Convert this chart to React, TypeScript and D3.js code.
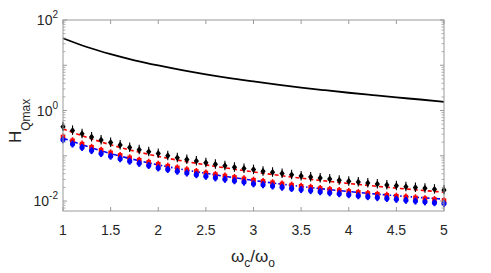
import React from 'react';
import * as d3 from 'd3';

// x values of the sampled points (omega_c / omega_o)
const xPoints = [
  1.0, 1.1, 1.2, 1.3, 1.4, 1.5, 1.6, 1.7, 1.8, 1.9,
  2.0, 2.1, 2.2, 2.3, 2.4, 2.5, 2.6, 2.7, 2.8, 2.9,
  3.0, 3.1, 3.2, 3.3, 3.4, 3.5, 3.6, 3.7, 3.8, 3.9,
  4.0, 4.1, 4.2, 4.3, 4.4, 4.5, 4.6, 4.7, 4.8, 4.9, 5.0,
];

// black diamonds
const blackMarkers = [
  0.440, 0.364, 0.306, 0.260, 0.224, 0.196, 0.172, 0.152, 0.136, 0.122,
  0.112, 0.0998, 0.0909, 0.0832, 0.0764, 0.0700, 0.0651, 0.0604, 0.0561, 0.0523,
  0.0495, 0.0458, 0.0430, 0.0404, 0.0381, 0.0359, 0.0340, 0.0321, 0.0305, 0.0289,
  0.0275, 0.0262, 0.0249, 0.0238, 0.0227, 0.0217, 0.0208, 0.0199, 0.0191, 0.0183, 0.0176,
];

// red squares
const redMarkers = [
  0.260, 0.215, 0.181, 0.154, 0.133, 0.116, 0.102, 0.090, 0.080, 0.072,
  0.065, 0.059, 0.054, 0.049, 0.045, 0.0416, 0.0385, 0.0357, 0.0332, 0.0309,
  0.0289, 0.0271, 0.0254, 0.0239, 0.0225, 0.0212, 0.0201, 0.0190, 0.0180, 0.0171,
  0.0163, 0.0155, 0.0147, 0.0141, 0.0134, 0.0128, 0.0123, 0.0118, 0.0113, 0.0108, 0.0102,
];

// blue circles
const blueMarkers = [
  0.225, 0.182, 0.153, 0.130, 0.112, 0.098, 0.086, 0.076, 0.068, 0.061,
  0.054, 0.050, 0.0455, 0.0416, 0.0382, 0.0352, 0.0325, 0.0302, 0.0281, 0.0262,
  0.0240, 0.0229, 0.0215, 0.0202, 0.0190, 0.0179, 0.0170, 0.0161, 0.0152, 0.0145,
  0.0138, 0.0131, 0.0125, 0.0119, 0.0114, 0.0109, 0.0104, 0.0100, 0.0096, 0.0092, 0.0088,
];

// curves
const lineX = [1, 1.25, 1.5, 1.75, 2, 2.25, 2.5, 2.75, 3, 3.25, 3.5, 3.75, 4, 4.25, 4.5, 4.75, 5];
const blackLine = [39.5, 25.3, 17.6, 12.9, 9.9, 7.8, 6.3, 5.2, 4.4, 3.74, 3.22, 2.81, 2.47, 2.19, 1.95, 1.75, 1.56];

const dashX = [1, 1.5, 2, 2.5, 3, 3.5, 4, 4.5, 5];
const redDashed = [0.39, 0.175, 0.097, 0.063, 0.044, 0.032, 0.0245, 0.0193, 0.0157];
const blueDashDot = [0.245, 0.112, 0.063, 0.041, 0.0285, 0.021, 0.0162, 0.0131, 0.0110];

const xTicks = [1, 1.5, 2, 2.5, 3, 3.5, 4, 4.5, 5];
const yLabelExps = [-2, 0, 2];

const W = 491;
const H = 273;
const left = 63;
const right = 444;
const top = 20;
const bottom = 211;

export default function App() {
  const x = d3.scaleLinear().domain([1, 5]).range([left, right]);
  const y = d3.scaleLog().domain([Math.pow(10, -2.22), 100]).range([bottom, top]);

  const line = (xs: number[], ys: number[]) =>
    d3.line<number>()
      .x((_, i) => x(xs[i]))
      .y((d) => y(d))
      .curve(d3.curveMonotoneX)(ys) || '';

  // log ticks: majors at every decade, minors at 2..9
  const minorTicks: number[] = [];
  for (let e = -3; e <= 1; e++) {
    for (let m = 2; m <= 9; m++) {
      const v = m * Math.pow(10, e);
      if (v >= y.domain()[0] && v <= 100) minorTicks.push(v);
    }
  }
  const majorTicks = [0.01, 0.1, 1, 10, 100];

  const axisColor = '#9a9a9a';
  const textColor = '#262626';
  const font = 'Liberation Sans, Arial, sans-serif';

  const diamond = 'M0,-3.5L2.6,0L0,3.5L-2.6,0Z';

  return (
    <svg width={W} height={H} style={{ position: 'absolute', left: 0, top: 0, background: '#fff' }} fontFamily={font}>
      {/* curves */}
      <path d={line(lineX, blackLine)} fill="none" stroke="#000" strokeWidth={1.8} />
      <path d={line(dashX, redDashed)} fill="none" stroke="#ff0000" strokeWidth={1.6} strokeDasharray="4,3" />
      <path d={line(dashX, blueDashDot)} fill="none" stroke="#0000ff" strokeWidth={1.6} strokeDasharray="5,2,1.5,2" />

      {/* black diamonds */}
      {xPoints.map((xv, i) => (
        <g key={'b' + i} transform={`translate(${x(xv)},${y(blackMarkers[i])})`}>
          <line x1={0} x2={0} y1={-5} y2={4.5} stroke="#000" strokeWidth={1.1} />
          <path d={diamond} fill="#000" />
        </g>
      ))}
      {/* red squares */}
      {xPoints.map((xv, i) => (
        <g key={'r' + i} transform={`translate(${x(xv)},${y(redMarkers[i])})`}>
          <line x1={0} x2={0} y1={-3.5} y2={3.5} stroke="#ff0000" strokeWidth={1.6} />
          <rect x={-2.3} y={-2.3} width={4.6} height={4.6} fill="#ff0000" />
        </g>
      ))}
      {/* blue circles */}
      {xPoints.map((xv, i) => (
        <g key={'c' + i} transform={`translate(${x(xv)},${y(blueMarkers[i])})`}>
          <line x1={0} x2={0} y1={-3.5} y2={3.5} stroke="#0000ff" strokeWidth={2} />
          <circle r={2.6} fill="#0000ff" />
        </g>
      ))}

      {/* axes box */}
      <rect x={left} y={top} width={right - left} height={bottom - top} fill="none" stroke={axisColor} strokeWidth={1} />

      {/* x ticks */}
      {xTicks.map((t) => (
        <g key={'xt' + t}>
          <line x1={x(t)} x2={x(t)} y1={bottom} y2={bottom - 4} stroke={axisColor} />
          <line x1={x(t)} x2={x(t)} y1={top} y2={top + 4} stroke={axisColor} />
          <text x={x(t)} y={bottom + 24} textAnchor="middle" fontSize={14} fill={textColor}>
            {t}
          </text>
        </g>
      ))}

      {/* y ticks */}
      {majorTicks.map((t) => (
        <g key={'ym' + t}>
          <line x1={left} x2={left + 4} y1={y(t)} y2={y(t)} stroke={axisColor} />
          <line x1={right} x2={right - 4} y1={y(t)} y2={y(t)} stroke={axisColor} />
        </g>
      ))}
      {minorTicks.map((t) => (
        <g key={'yn' + t}>
          <line x1={left} x2={left + 2.5} y1={y(t)} y2={y(t)} stroke={axisColor} strokeWidth={0.8} />
          <line x1={right} x2={right - 2.5} y1={y(t)} y2={y(t)} stroke={axisColor} strokeWidth={0.8} />
        </g>
      ))}
      {yLabelExps.map((e) => (
        <text key={'yl' + e} x={left - 5} y={y(Math.pow(10, e)) + 5} textAnchor="end" fontSize={14} fill={textColor}>
          10
          <tspan fontSize={10} dy={-7}>{e}</tspan>
        </text>
      ))}

      {/* y label */}
      <text transform={`translate(21,143) rotate(-90)`} fontSize={17} fill={textColor}>
        H
        <tspan fontSize={12} dy={9}>Qmax</tspan>
      </text>

      {/* x label */}
      <text x={253} y={262} textAnchor="middle" fontSize={17} fill={textColor}>
        ω
        <tspan fontSize={12} dy={5}>c</tspan>
        <tspan dy={-5}>/ω</tspan>
        <tspan fontSize={12} dy={5}>o</tspan>
      </text>
    </svg>
  );
}
